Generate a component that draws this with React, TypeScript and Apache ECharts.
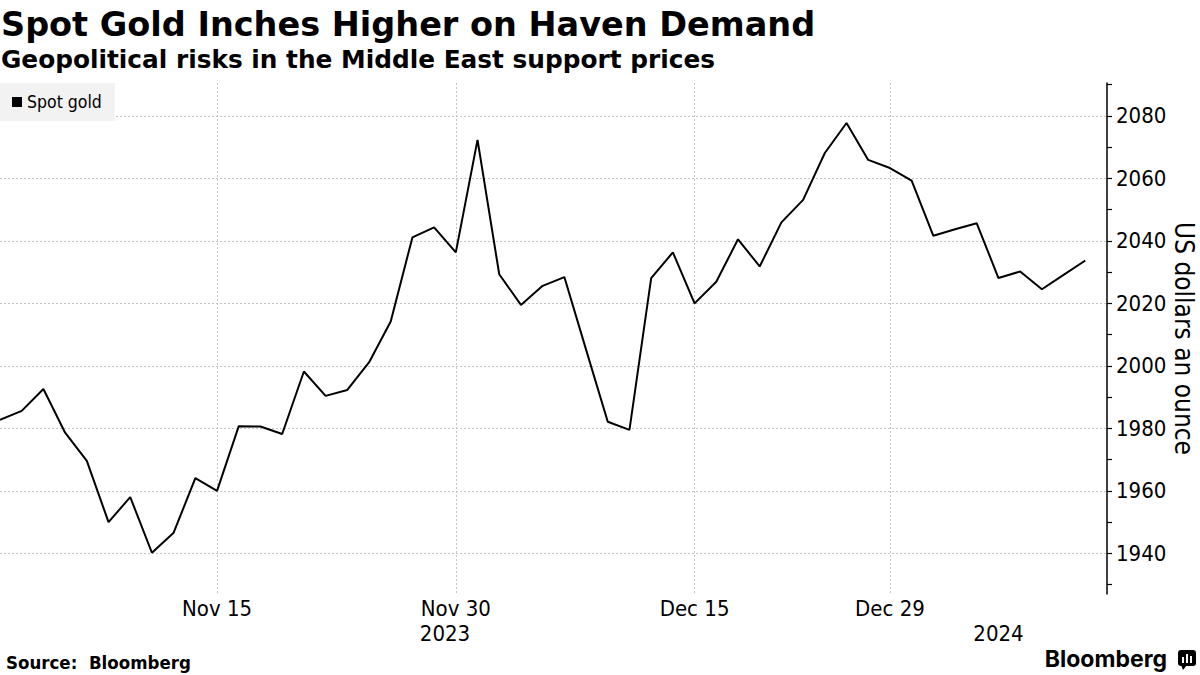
import React, { useEffect, useRef } from "react";
import * as echarts from "echarts";

// ---- Data ----
const tradingDates: string[] = [
  "2023-11-01", "2023-11-02", "2023-11-03", "2023-11-06", "2023-11-07", "2023-11-08", "2023-11-09", "2023-11-10",
  "2023-11-13", "2023-11-14", "2023-11-15", "2023-11-16", "2023-11-17", "2023-11-20", "2023-11-21", "2023-11-22",
  "2023-11-23", "2023-11-24", "2023-11-27", "2023-11-28", "2023-11-29", "2023-11-30", "2023-12-01", "2023-12-04",
  "2023-12-05", "2023-12-06", "2023-12-07", "2023-12-08", "2023-12-11", "2023-12-12", "2023-12-13", "2023-12-14",
  "2023-12-15", "2023-12-18", "2023-12-19", "2023-12-20", "2023-12-21", "2023-12-22", "2023-12-26", "2023-12-27",
  "2023-12-28", "2023-12-29", "2024-01-02", "2024-01-03", "2024-01-04", "2024-01-05", "2024-01-08", "2024-01-09",
  "2024-01-10", "2024-01-11", "2024-01-12",
];

const spotGold: number[] = [
  1982.7, 1985.6, 1992.6, 1978.6, 1969.6, 1950.0, 1958.0, 1940.2, 1946.6, 1964.1,
  1960.0, 1980.7, 1980.6, 1978.2, 1998.2, 1990.4, 1992.3, 2001.1, 2014.2, 2041.1,
  2044.3, 2036.3, 2072.3, 2029.3, 2019.5, 2025.6, 2028.4, 2005.2, 1982.1, 1979.5,
  2028.1, 2036.3, 2020.0, 2026.9, 2040.5, 2031.8, 2045.9, 2053.1, 2068.1, 2077.7,
  2065.9, 2063.3, 2059.3, 2041.6, 2043.7, 2045.6, 2028.1, 2030.2, 2024.5, 2029.1,
  2033.7,
];

const tickDates: string[] = ["2023-11-15", "2023-11-30", "2023-12-15", "2023-12-29"];
const monthNames: string[] = ["Jan", "Feb", "Mar", "Apr", "May", "Jun", "Jul", "Aug", "Sep", "Oct", "Nov", "Dec"];
const yLabelValues: number[] = [1940, 1960, 1980, 2000, 2020, 2040, 2060, 2080];
const yTickValues: number[] = [1930, 1940, 1950, 1960, 1970, 1980, 1990, 2000, 2010, 2020, 2030, 2040, 2050, 2060, 2070, 2080, 2090];

const TITLE = "Spot Gold Inches Higher on Haven Demand";
const SUBTITLE = "Geopolitical risks in the Middle East support prices";
const SERIES_NAME = "Spot gold";
const Y_NAME = "US dollars an ounce";
const SOURCE = "Source:  Bloomberg";

const FONT = "'DejaVu Sans Condensed', 'DejaVu Sans', sans-serif";
const FONT_WIDE = "'DejaVu Sans', sans-serif";

export default function App() {
  const ref = useRef<HTMLDivElement>(null);

  useEffect(() => {
    document.body.style.margin = "0";
    if (!ref.current) return;
    const chart = echarts.init(ref.current, undefined, { renderer: "svg" });

    const xMax = tradingDates.length;
    const tickIdx = tickDates.map((d) => tradingDates.indexOf(d));

    // year label centres: middle of each year's span on the axis
    const years: string[] = [];
    tradingDates.forEach((d) => {
      const y = d.slice(0, 4);
      if (!years.includes(y)) years.push(y);
    });
    const yearPos: number[] = years.map((y, k) => {
      let last = -1;
      tradingDates.forEach((d, i) => {
        if (d.startsWith(y)) last = i;
      });
      let start = 0;
      if (k > 0) {
        tradingDates.forEach((d, i) => {
          if (d.startsWith(years[k - 1])) start = i;
        });
      }
      const end = k === years.length - 1 ? xMax : last;
      return (start + end) / 2;
    });

    const fmtDate = (v: number) => {
      const d = tradingDates[Math.round(v)];
      if (!d) return "";
      const m = parseInt(d.slice(5, 7), 10);
      const day = parseInt(d.slice(8, 10), 10);
      return monthNames[m - 1] + " " + day;
    };
    const fmtYear = (v: number) => {
      let best = 0;
      yearPos.forEach((p, i) => {
        if (Math.abs(p - v) < Math.abs(yearPos[best] - v)) best = i;
      });
      return years[best];
    };

    const yMin = 1927;
    const yMax = 2090.5;
    const gridTop = 83;
    const gridBottom = 81;

    const option: any = {
      animation: false,
      backgroundColor: "#ffffff",
      textStyle: { fontFamily: FONT },
      grid: { left: 0, right: 93, top: gridTop, bottom: gridBottom, containLabel: false, outerBoundsMode: "none" },
      legend: {
        data: [SERIES_NAME],
        left: 0,
        top: 83,
        orient: "horizontal",
        backgroundColor: "#f2f2f2",
        padding: [10, 13, 10, 12],
        itemWidth: 10,
        itemHeight: 10,
        icon: "rect",
        textStyle: { fontFamily: FONT, fontSize: 17.5, color: "#000" },
      },
      xAxis: [
        {
          type: "value",
          min: 0,
          max: xMax,
          position: "bottom",
          axisLine: { show: false, onZero: false },
          axisTick: { show: false, customValues: tickIdx },
          axisLabel: {
            customValues: tickIdx,
            formatter: fmtDate,
            fontFamily: FONT,
            fontSize: 22,
            color: "#000",
            margin: 3,
          },
          splitLine: { show: true, lineStyle: { color: "#c4c4c4", type: [2, 2], width: 1 } },
        },
        {
          type: "value",
          min: 0,
          max: xMax,
          position: "bottom",
          axisLine: { show: false, onZero: false },
          axisTick: { show: false, customValues: yearPos },
          axisLabel: {
            customValues: yearPos,
            formatter: fmtYear,
            fontFamily: FONT,
            fontSize: 22,
            color: "#000",
            margin: 28,
          },
          splitLine: { show: false },
        },
      ],
      yAxis: [
        {
          type: "value",
          position: "right",
          min: yMin,
          max: yMax,
          axisLine: { show: true, onZero: false, lineStyle: { color: "#000", width: 1.5 } },
          axisTick: { show: true, customValues: yTickValues, length: 5, lineStyle: { color: "#000", width: 1.2 } },
          axisLabel: {
            customValues: yLabelValues,
            fontFamily: FONT,
            fontSize: 22,
            color: "#000",
            margin: 9,
            formatter: (v: number) => String(v),
          },
          splitLine: { show: false },
        },
        {
          type: "value",
          position: "left",
          min: yMin,
          max: yMax,
          axisLine: { show: false, onZero: false },
          axisTick: { show: false, customValues: yLabelValues },
          axisLabel: { show: false },
          splitLine: { show: true, lineStyle: { color: "#c4c4c4", type: [2, 2], width: 1 } },
        },
      ],
      series: [
        {
          name: SERIES_NAME,
          type: "line",
          xAxisIndex: 0,
          yAxisIndex: 0,
          data: spotGold.map((v, i) => [i, v]),
          showSymbol: false,
          symbol: "none",
          itemStyle: { color: "#000" },
          lineStyle: { color: "#000", width: 2 },
        },
      ],
      graphic: [
        {
          type: "text",
          x: 1,
          y: 24,
          style: { text: TITLE, fontFamily: FONT_WIDE, fontWeight: "bold", fontSize: 33.5, fill: "#000", verticalAlign: "middle" },
        },
        {
          type: "text",
          x: 1,
          y: 59,
          style: { text: SUBTITLE, fontFamily: FONT_WIDE, fontWeight: "bold", fontSize: 24.8, fill: "#000", verticalAlign: "middle" },
        },
        {
          type: "text",
          x: 1184,
          y: (gridTop + (675 - gridBottom)) / 2,
          rotation: -Math.PI / 2,
          style: { text: Y_NAME, fontFamily: FONT, fontSize: 26, fill: "#000", align: "center", verticalAlign: "middle" },
        },
        {
          type: "text",
          x: 6,
          y: 662,
          style: { text: SOURCE, fontFamily: FONT, fontWeight: "bold", fontSize: 18.5, fill: "#000", verticalAlign: "middle" },
        },
        {
          type: "text",
          x: 1167,
          y: 659,
          style: { text: "Bloomberg", fontFamily: "Inter, 'Noto Sans', sans-serif", fontWeight: "bold", fontSize: 23, fill: "#000", align: "right", verticalAlign: "middle" },
        },
        {
          type: "group",
          x: 1178,
          y: 650,
          children: [
            { type: "rect", shape: { x: 0, y: 0, width: 18, height: 16, r: 3 }, style: { fill: "#000" } },
            { type: "polygon", shape: { points: [[3, 15], [9, 15], [5, 20]] }, style: { fill: "#000" } },
            { type: "rect", shape: { x: 4, y: 7, width: 2, height: 6 }, style: { fill: "#fff" } },
            { type: "rect", shape: { x: 8, y: 4, width: 2, height: 9 }, style: { fill: "#fff" } },
            { type: "rect", shape: { x: 12, y: 6, width: 2, height: 7 }, style: { fill: "#fff" } },
          ],
        },
      ],
    };

    chart.setOption(option);
    return () => chart.dispose();
  }, []);

  return <div ref={ref} style={{ width: 1200, height: 675 }} />;
}
